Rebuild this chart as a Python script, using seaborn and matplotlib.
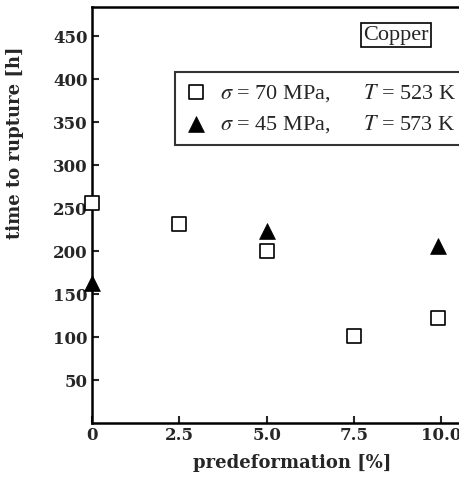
import matplotlib
matplotlib.use("Agg")
import matplotlib.pyplot as plt
import seaborn as sns
import pandas as pd

# data
pre_sq = [0.0, 2.5, 5.0, 7.5, 9.9]
t_sq = [256, 232, 200, 101, 122]
pre_tri = [0.0, 5.0, 9.9]
t_tri = [163, 224, 206]
label_sq = r"$\sigma$ = 70 MPa,      $T$ = 523 K"
label_tri = r"$\sigma$ = 45 MPa,      $T$ = 573 K"
xticks = [0, 2.5, 5.0, 7.5, 10.0]
xticklabels = ["0", "2.5", "5.0", "7.5", "10.0"]
yticks = [50, 100, 150, 200, 250, 300, 350, 400, 450]

sns.set_style("ticks")
plt.rcParams["font.family"] = ["Liberation Serif", "DejaVu Serif"]
plt.rcParams["mathtext.fontset"] = "stix"

fig = plt.figure(figsize=(4.6, 4.78), dpi=100)
ax = fig.add_axes([0.2, 0.115, 0.8, 0.87])

df_sq = pd.DataFrame({"x": pre_sq, "y": t_sq})
df_tri = pd.DataFrame({"x": pre_tri, "y": t_tri})
sns.scatterplot(data=df_sq, x="x", y="y", ax=ax, marker="s", s=110,
                facecolor="white", edgecolor="black", linewidth=1.2,
                label=label_sq, clip_on=False, zorder=5)
sns.scatterplot(data=df_tri, x="x", y="y", ax=ax, marker="^", s=130,
                color="black", edgecolor="black", linewidth=0.5,
                label=label_tri, clip_on=False, zorder=5)

ax.set_xlim(0, 10.54)
ax.set_ylim(0, 484)
ax.set_xticks(xticks)
ax.set_xticklabels(xticklabels)
ax.set_yticks(yticks)
ax.tick_params(direction="in", length=5, width=1.5, labelsize=12, pad=3)
for lab in ax.get_xticklabels() + ax.get_yticklabels():
    lab.set_fontweight("bold")
    lab.set_family(["DejaVu Serif"])
for side in ["left", "bottom", "top"]:
    ax.spines[side].set_linewidth(1.8)
    ax.spines[side].set_color("black")
ax.spines["right"].set_visible(False)

ax.set_xlabel("predeformation [%]", fontsize=13, fontweight="bold",
              family=["DejaVu Serif"])
ax.set_ylabel("time to rupture [h]", fontsize=13, fontweight="bold",
              family=["DejaVu Serif"])
ax.xaxis.set_label_coords(0.543, -0.075)
ax.yaxis.set_label_coords(-0.185, 0.675)

leg = ax.legend(loc="upper left", bbox_to_anchor=(0.225, 0.845), fontsize=16,
                frameon=True, fancybox=False, borderpad=0.45, handletextpad=0.6,
                handlelength=1.0, labelspacing=0.45, borderaxespad=0)
leg.get_frame().set_edgecolor("black")
leg.get_frame().set_linewidth(1.5)

ax.text(0.826, 0.933, "Copper", transform=ax.transAxes, fontsize=16,
        ha="center", va="center",
        bbox=dict(boxstyle="square,pad=0.12", facecolor="white",
                  edgecolor="black", linewidth=1.2))

fig.savefig("out.png", dpi=100)
